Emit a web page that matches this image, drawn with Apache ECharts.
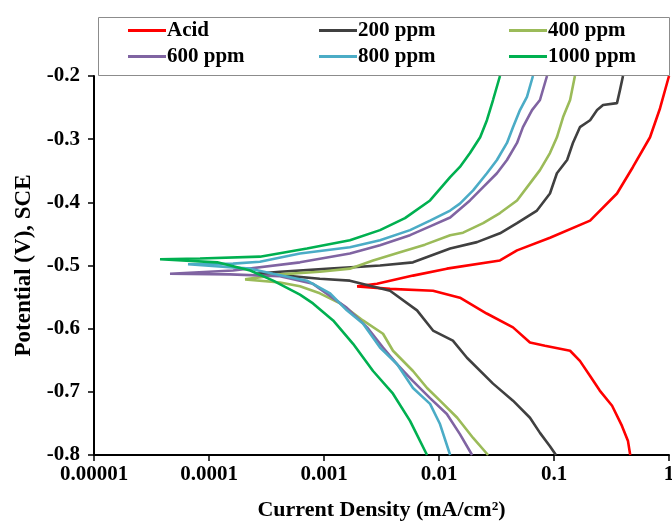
<!DOCTYPE html>
<html>
<head>
<meta charset="utf-8">
<script src="https://cdn.jsdelivr.net/npm/echarts@6/dist/echarts.min.js"></script>
<style>
  html, body { margin: 0; padding: 0; background: #fff; }
  #chart { width: 672px; height: 523px; }
</style>
</head>
<body>
<div id="chart"></div>
<script>
// Tafel polarization curves: [current density (mA/cm2), potential (V vs SCE)],
// each swept from the cathodic end (-0.8 V) through Ecorr to the anodic end (-0.2 V).
const acid = [
  [0.46, -0.8], [0.44, -0.778], [0.39, -0.754], [0.32, -0.722], [0.25, -0.698],
  [0.206, -0.675], [0.168, -0.651], [0.138, -0.635], [0.0835, -0.627], [0.0618, -0.622],
  [0.044, -0.598], [0.026, -0.576], [0.0152, -0.551], [0.00887, -0.540], [0.00375, -0.537],
  [0.00194, -0.533],
  [0.00289, -0.529], [0.00594, -0.516], [0.0117, -0.505], [0.0339, -0.492], [0.0477, -0.476],
  [0.0923, -0.456], [0.206, -0.429], [0.353, -0.386], [0.486, -0.344], [0.684, -0.297],
  [0.836, -0.251], [1.0, -0.2]
];
const ppm200 = [
  [0.104, -0.8], [0.0922, -0.786], [0.0755, -0.765], [0.0618, -0.741], [0.044, -0.714],
  [0.0295, -0.687], [0.0175, -0.646], [0.0132, -0.619], [0.00887, -0.603], [0.00644, -0.571],
  [0.00375, -0.540], [0.00168, -0.524], [0.00092, -0.521], [0.000458, -0.516],
  [0.000251, -0.513],
  [0.000414, -0.510], [0.00113, -0.505], [0.00307, -0.500], [0.00594, -0.495], [0.0125, -0.473],
  [0.0214, -0.463], [0.0339, -0.449], [0.0477, -0.433], [0.0711, -0.413], [0.0922, -0.386],
  [0.106, -0.354], [0.130, -0.333], [0.146, -0.306], [0.168, -0.281], [0.206, -0.270],
  [0.237, -0.254], [0.267, -0.246], [0.353, -0.243], [0.375, -0.222], [0.398, -0.2]
];
const ppm400 = [
  [0.0267, -0.8], [0.0198, -0.773], [0.0144, -0.741], [0.0102, -0.714], [0.00787, -0.694],
  [0.00594, -0.667], [0.00398, -0.635], [0.00326, -0.608], [0.00218, -0.587], [0.00138, -0.560],
  [0.00092, -0.544], [0.000618, -0.533], [0.000414, -0.527],
  [0.000206, -0.522],
  [0.000414, -0.514], [0.00092, -0.510], [0.00168, -0.505], [0.00267, -0.492], [0.00458, -0.479],
  [0.00755, -0.467], [0.0125, -0.452], [0.0162, -0.448], [0.0242, -0.433], [0.0339, -0.417],
  [0.0477, -0.397], [0.0618, -0.370], [0.0755, -0.349], [0.0922, -0.322], [0.106, -0.297],
  [0.120, -0.265], [0.138, -0.238], [0.152, -0.2]
];
const ppm600 = [
  [0.0194, -0.8], [0.0152, -0.767], [0.0117, -0.735], [0.00836, -0.710], [0.00594, -0.683],
  [0.00431, -0.656], [0.00326, -0.630], [0.00237, -0.598], [0.00158, -0.567], [0.000802, -0.529],
  [0.000414, -0.517], [0.000152, -0.514],
  [0.0000458, -0.513],
  [0.000162, -0.508], [0.000618, -0.495], [0.00168, -0.481], [0.00307, -0.468], [0.0056, -0.452],
  [0.00836, -0.438], [0.0125, -0.424], [0.0186, -0.397], [0.0242, -0.376], [0.0319, -0.354],
  [0.039, -0.333], [0.0477, -0.306], [0.0537, -0.281], [0.0644, -0.254], [0.0755, -0.238],
  [0.0869, -0.2]
];
const ppm800 = [
  [0.0125, -0.8], [0.0102, -0.751], [0.00836, -0.719], [0.00594, -0.694], [0.00431, -0.656],
  [0.00307, -0.630], [0.00218, -0.592], [0.00158, -0.571], [0.00113, -0.544], [0.000711, -0.524],
  [0.000361, -0.513], [0.000228, -0.505],
  [0.0000657, -0.498],
  [0.000162, -0.497], [0.000277, -0.494], [0.000618, -0.481], [0.00168, -0.471], [0.00307, -0.460],
  [0.0056, -0.444], [0.00836, -0.429], [0.0125, -0.413], [0.0152, -0.402], [0.0198, -0.381],
  [0.0261, -0.354], [0.0319, -0.333], [0.039, -0.306], [0.044, -0.281], [0.0506, -0.254],
  [0.0582, -0.233], [0.0656, -0.2]
];
const ppm1000 = [
  [0.00787, -0.8], [0.0056, -0.746], [0.00398, -0.703], [0.00267, -0.667], [0.00179, -0.624],
  [0.0012, -0.587], [0.000802, -0.560], [0.000618, -0.546], [0.000361, -0.524], [0.000228, -0.508],
  [0.000118, -0.495],
  [0.0000375, -0.490],
  [0.0000836, -0.489], [0.000277, -0.486], [0.000711, -0.473], [0.00168, -0.460], [0.00307, -0.444],
  [0.00506, -0.425], [0.00836, -0.397], [0.0125, -0.360], [0.0152, -0.344], [0.0186, -0.322],
  [0.0228, -0.297], [0.0261, -0.270], [0.0295, -0.238], [0.0339, -0.2]
];

const seriesNames = ['Acid', '200 ppm', '400 ppm', '600 ppm', '800 ppm', '1000 ppm'];
const seriesData = [acid, ppm200, ppm400, ppm600, ppm800, ppm1000];
const seriesColors = ['#FF0000', '#404040', '#9BBB59', '#8064A2', '#4BACC6', '#00B050'];

const xTickLabels = ['0.00001', '0.0001', '0.001', '0.01', '0.1', '1'];
const yTickLabels = ['-0.8', '-0.7', '-0.6', '-0.5', '-0.4', '-0.3', '-0.2'];

const serif = '"Liberation Serif", "Times New Roman", serif';
const axisText = { color: '#000', fontFamily: serif, fontWeight: 'bold', fontSize: 21 };

// legend slots: three columns, two rows inside the framed box
const legendCols = [128, 319, 509];
const legendRows = [20, 46];
const legends = seriesNames.map((name, i) => ({
  data: [name],
  left: legendCols[i % 3],
  top: legendRows[Math.floor(i / 3)],
  icon: 'rect',
  itemWidth: 38,
  itemHeight: 3,
  itemGap: 0,
  padding: 0,
  selectedMode: false,
  textStyle: { color: '#000', fontFamily: serif, fontWeight: 'bold', fontSize: 21, padding: [0, 0, 0, -4] }
}));

const chart = echarts.init(document.getElementById('chart'), null, { renderer: 'canvas' });
chart.setOption({
  animation: false,
  backgroundColor: '#fff',
  graphic: [{
    type: 'rect',
    shape: { x: 98.5, y: 17.5, width: 571, height: 58 },
    style: { fill: '#fff', stroke: '#8c8c8c', lineWidth: 1 },
    z: -1
  }],
  legend: legends,
  grid: { left: 94, right: 3, top: 76, bottom: 68, containLabel: false, outerBoundsMode: 'none' },
  xAxis: {
    type: 'log',
    logBase: 10,
    min: 0.00001,
    max: 1,
    name: 'Current Density (mA/cm²)',
    nameLocation: 'middle',
    nameGap: 44,
    nameTextStyle: { color: '#000', fontFamily: serif, fontWeight: 'bold', fontSize: 22 },
    axisLine: { lineStyle: { color: '#000', width: 2 } },
    axisTick: { show: true, inside: false, length: 6, lineStyle: { color: '#000', width: 1.5 } },
    minorTick: { show: false },
    splitLine: { show: false },
    axisLabel: Object.assign({}, axisText, {
      margin: 9,
      formatter: v => xTickLabels[Math.round(Math.log10(v)) + 5]
    })
  },
  yAxis: {
    type: 'value',
    min: -0.8,
    max: -0.2,
    interval: 0.1,
    name: 'Potential (V), SCE',
    nameLocation: 'middle',
    nameGap: 57,
    nameRotate: 90,
    nameTextStyle: { color: '#000', fontFamily: serif, fontWeight: 'bold', fontSize: 23 },
    axisLine: { show: true, onZero: false, lineStyle: { color: '#000', width: 2 } },
    axisTick: { show: true, inside: false, length: 6, lineStyle: { color: '#000', width: 1.5 } },
    splitLine: { show: false },
    axisLabel: Object.assign({}, axisText, {
      margin: 14,
      formatter: v => yTickLabels[Math.round((v + 0.8) * 10)]
    })
  },
  series: seriesNames.map((name, i) => ({
    name: name,
    type: 'line',
    data: seriesData[i],
    showSymbol: false,
    symbol: 'none',
    smooth: false,
    clip: true,
    color: seriesColors[i],
    lineStyle: { color: seriesColors[i], width: 2.6 }
  }))
});
</script>
</body>
</html>
